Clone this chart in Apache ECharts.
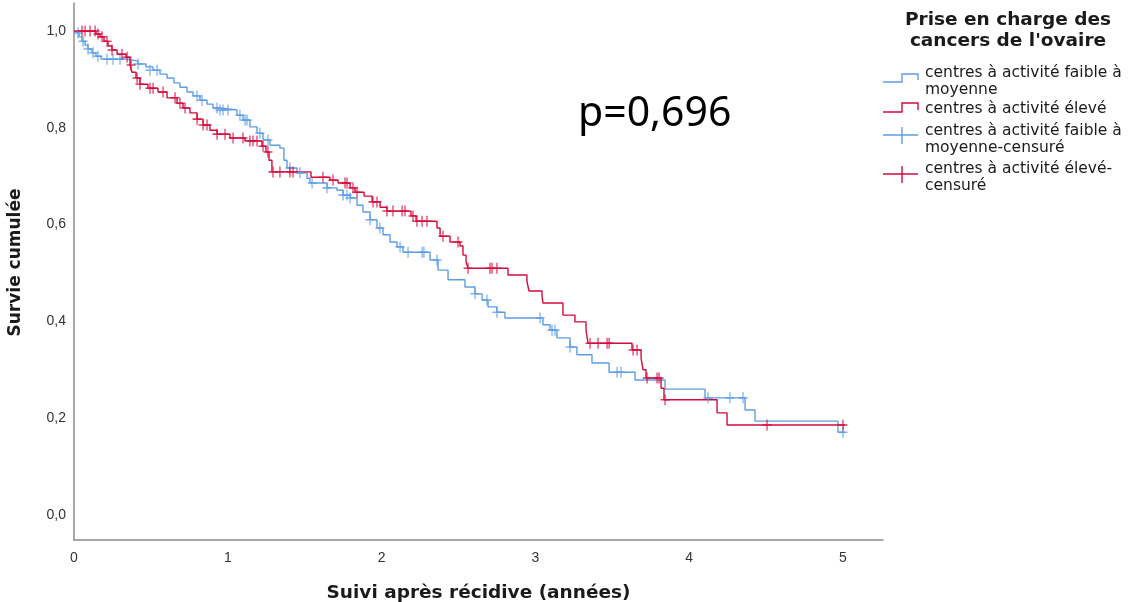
<!DOCTYPE html>
<html>
<head>
<meta charset="utf-8">
<script src="https://cdn.jsdelivr.net/npm/echarts@6/dist/echarts.min.js"></script>
<style>html,body{margin:0;padding:0;background:#fff;}#c{width:1129px;height:602px;}</style>
</head>
<body>
<div id="c"></div>
<script>
// Kaplan-Meier step curves: [time (years), cumulative survival]
const blueCurve = [
 [0,1.0],[0.013,0.996],[0.033,0.988],[0.052,0.979],[0.072,0.971],[0.091,0.963],[0.117,0.955],[0.143,0.948],[0.176,0.942],
 [0.351,0.938],[0.416,0.932],[0.468,0.926],[0.514,0.919],[0.559,0.911],[0.605,0.903],[0.650,0.893],[0.689,0.884],[0.735,0.874],
 [0.774,0.866],[0.819,0.857],[0.865,0.849],[0.904,0.841],[0.949,0.837],[1.060,0.826],[1.099,0.816],[1.144,0.802],[1.190,0.789],
 [1.229,0.775],[1.274,0.764],[1.339,0.758],[1.365,0.733],[1.385,0.717],[1.450,0.707],[1.515,0.696],[1.534,0.686],[1.645,0.676],
 [1.710,0.671],[1.749,0.661],[1.795,0.655],[1.840,0.640],[1.879,0.626],[1.925,0.610],[1.970,0.593],[2.009,0.579],[2.055,0.564],
 [2.100,0.554],[2.139,0.543],[2.315,0.527],[2.367,0.506],[2.432,0.486],[2.542,0.471],[2.607,0.457],[2.653,0.444],[2.692,0.430],
 [2.750,0.419],[2.802,0.407],[3.049,0.393],[3.095,0.382],[3.140,0.366],[3.225,0.347],[3.270,0.331],[3.368,0.314],[3.479,0.295],
 [3.648,0.279],[3.843,0.260],[4.103,0.242],[4.363,0.217],[4.428,0.194],[4.967,0.171],[5.013,0.171]
];
const redCurve = [
 [0,1.0],[0.143,0.994],[0.169,0.988],[0.195,0.979],[0.221,0.969],[0.247,0.961],[0.280,0.952],[0.338,0.946],[0.364,0.930],
 [0.377,0.915],[0.403,0.903],[0.429,0.890],[0.481,0.882],[0.546,0.874],[0.605,0.862],[0.670,0.851],[0.709,0.841],[0.754,0.831],
 [0.800,0.818],[0.839,0.806],[0.884,0.795],[0.930,0.787],[1.014,0.779],[1.112,0.773],[1.222,0.762],[1.248,0.750],[1.268,0.733],
 [1.287,0.709],[1.541,0.698],[1.664,0.692],[1.717,0.686],[1.795,0.676],[1.827,0.667],[1.886,0.659],[1.938,0.647],[1.990,0.636],
 [2.035,0.628],[2.191,0.618],[2.224,0.607],[2.360,0.593],[2.380,0.576],[2.445,0.564],[2.510,0.556],[2.529,0.537],[2.549,0.523],
 [2.562,0.510],[2.822,0.496],[2.945,0.483],[2.958,0.463],[3.043,0.452],[3.049,0.438],[3.179,0.413],[3.257,0.399],[3.329,0.382],
 [3.342,0.355],[3.628,0.341],[3.687,0.324],[3.700,0.300],[3.719,0.283],[3.817,0.262],[3.836,0.238],[4.181,0.211],[4.246,0.186],
 [5.013,0.186]
];
// censored observations
const blueCensored = [
 [0.026,0.996],[0.059,0.979],[0.091,0.963],[0.124,0.955],[0.156,0.948],[0.215,0.942],[0.254,0.942],[0.299,0.942],[0.416,0.932],
 [0.494,0.919],[0.540,0.919],[0.800,0.866],[0.832,0.857],[0.930,0.841],[0.949,0.837],[0.969,0.837],[1.001,0.837],[1.079,0.826],
 [1.112,0.816],[1.125,0.816],[1.209,0.789],[1.261,0.775],[1.404,0.717],[1.469,0.707],[1.548,0.686],[1.645,0.676],[1.749,0.661],
 [1.775,0.661],[1.795,0.655],[1.925,0.610],[1.989,0.593],[2.120,0.554],[2.172,0.543],[2.263,0.543],[2.275,0.543],[2.360,0.527],
 [2.607,0.457],[2.685,0.444],[2.750,0.419],[3.030,0.407],[3.108,0.382],[3.127,0.382],[3.225,0.347],[3.531,0.295],[3.557,0.295],
 [4.122,0.242],[4.265,0.242],[4.350,0.242],[5.0,0.171]
];
const redCensored = [
 [0.052,1.0],[0.072,1.0],[0.104,1.0],[0.137,1.0],[0.156,0.994],[0.182,0.988],[0.215,0.979],[0.247,0.961],[0.312,0.952],
 [0.345,0.946],[0.371,0.930],[0.410,0.903],[0.429,0.890],[0.494,0.882],[0.514,0.882],[0.579,0.874],[0.657,0.862],[0.689,0.851],
 [0.722,0.841],[0.800,0.818],[0.839,0.806],[0.865,0.806],[0.930,0.787],[0.982,0.787],[1.034,0.779],[1.099,0.779],[1.144,0.773],
 [1.164,0.773],[1.190,0.773],[1.229,0.762],[1.261,0.750],[1.294,0.709],[1.339,0.709],[1.404,0.709],[1.424,0.709],[1.619,0.698],
 [1.684,0.692],[1.762,0.686],[1.775,0.686],[1.814,0.676],[1.840,0.667],[1.944,0.647],[1.970,0.647],[2.035,0.628],[2.074,0.628],
 [2.133,0.628],[2.152,0.628],[2.204,0.618],[2.230,0.607],[2.263,0.607],[2.295,0.607],[2.399,0.576],[2.497,0.564],[2.562,0.510],
 [2.705,0.510],[2.718,0.510],[2.750,0.510],[3.355,0.355],[3.407,0.355],[3.466,0.355],[3.479,0.355],[3.635,0.341],[3.661,0.341],
 [3.726,0.283],[3.791,0.283],[3.804,0.283],[3.843,0.238],[4.506,0.186],[5.0,0.186]
];
const xTicks = [0,1,2,3,4,5];
const yTicks = [0,0.2,0.4,0.6,0.8,1.0];
const seriesNames = ['centres à activité faible à moyenne','centres à activité élevé',
  'centres à activité faible à moyenne-censuré','centres à activité élevé-censuré'];

const BLUE = '#5d9de6', RED = '#d50a3c';
const FONT = '"Liberation Sans", Arial, sans-serif';
const WIDE = '"DejaVu Sans", sans-serif';
const cross = 'path://M5,0L5,12M0,6L10,6';

const chart = echarts.init(document.getElementById('c'), null, {renderer:'canvas'});
const legendTextStyle = {fontFamily: WIDE, fontSize: 15.5, fill: '#1a1a1a', lineHeight: 17};
chart.setOption({
  animation: false,
  backgroundColor: '#fff',
  grid: {left: 74, top: 3, right: 246, bottom: 62, containLabel: false, outerBoundsMode: 'none'},
  xAxis: {
    type: 'value', min: 0, max: 5.26,
    name: 'Suivi après récidive (années)', nameLocation: 'middle', nameGap: 44,
    nameTextStyle: {fontFamily: WIDE, fontWeight: 'bold', fontSize: 18.5, color: '#1a1a1a'},
    axisLine: {show: true, onZero: false, lineStyle: {color: '#8c8c8c', width: 1.5}},
    axisTick: {show: false},
    splitLine: {show: false},
    axisLabel: {customValues: xTicks, fontFamily: FONT, fontSize: 14, color: '#333', margin: 11,
      formatter: v => String(v)}
  },
  yAxis: {
    type: 'value', min: -0.0517, max: 1.058,
    name: 'Survie cumulée', nameLocation: 'middle', nameGap: 50,
    nameTextStyle: {fontFamily: WIDE, fontWeight: 'bold', fontSize: 17, color: '#1a1a1a', padding: [0, 0, 0, 18]},
    axisLine: {show: true, onZero: false, lineStyle: {color: '#8c8c8c', width: 1.5}},
    axisTick: {show: false},
    splitLine: {show: false},
    axisLabel: {customValues: yTicks, fontFamily: FONT, fontSize: 14, color: '#333', margin: 8,
      formatter: v => v.toFixed(1).replace('.', ',')}
  },
  series: [
    {name: seriesNames[0], type: 'line', step: 'end', data: blueCurve, showSymbol: false,
     lineStyle: {color: BLUE, width: 1.4}, itemStyle: {color: BLUE}, z: 2},
    {name: seriesNames[1], type: 'line', step: 'end', data: redCurve, showSymbol: false,
     lineStyle: {color: RED, width: 1.4}, itemStyle: {color: RED}, z: 3},
    {name: seriesNames[2], type: 'scatter', data: blueCensored, symbol: cross, symbolSize: [9, 11],
     itemStyle: {color: 'none', borderColor: BLUE, borderWidth: 1.4}, z: 4},
    {name: seriesNames[3], type: 'scatter', data: redCensored, symbol: cross, symbolSize: [9, 11],
     itemStyle: {color: 'none', borderColor: RED, borderWidth: 1.4}, z: 5}
  ],
  graphic: [
    {type: 'text', left: 578, top: 94, style: {text: 'p=0,696', fontFamily: '"Noto Sans", sans-serif', fontSize: 41, fill: '#000'}},
    {type: 'text', x: 1008, y: 31, style: {text: 'Prise en charge des\ncancers de l\'ovaire', fontFamily: WIDE, fontWeight: 'bold',
      fontSize: 18.5, lineHeight: 21, fill: '#1a1a1a', align: 'center', verticalAlign: 'middle'}},
    {type: 'polyline', shape: {points: [[883,82],[902,82],[902,74],[918,74],[918,80]]}, style: {stroke: BLUE, lineWidth: 1.4, fill: null}},
    {type: 'text', x: 925, y: 64, style: Object.assign({text: 'centres à activité faible à\nmoyenne'}, legendTextStyle)},
    {type: 'polyline', shape: {points: [[883,112],[902,112],[902,103],[918,103],[918,110]]}, style: {stroke: RED, lineWidth: 1.4, fill: null}},
    {type: 'text', x: 925, y: 100, style: Object.assign({text: 'centres à activité élevé'}, legendTextStyle)},
    {type: 'polyline', shape: {points: [[883,135],[918,135]]}, style: {stroke: BLUE, lineWidth: 1.4}},
    {type: 'polyline', shape: {points: [[902,127],[902,144]]}, style: {stroke: BLUE, lineWidth: 1.4}},
    {type: 'text', x: 925, y: 122, style: Object.assign({text: 'centres à activité faible à\nmoyenne-censuré'}, legendTextStyle)},
    {type: 'polyline', shape: {points: [[883,174],[918,174]]}, style: {stroke: RED, lineWidth: 1.4}},
    {type: 'polyline', shape: {points: [[902,166],[902,183]]}, style: {stroke: RED, lineWidth: 1.4}},
    {type: 'text', x: 925, y: 160, style: Object.assign({text: 'centres à activité élevé-\ncensuré'}, legendTextStyle)}
  ]
});
</script>
</body>
</html>
